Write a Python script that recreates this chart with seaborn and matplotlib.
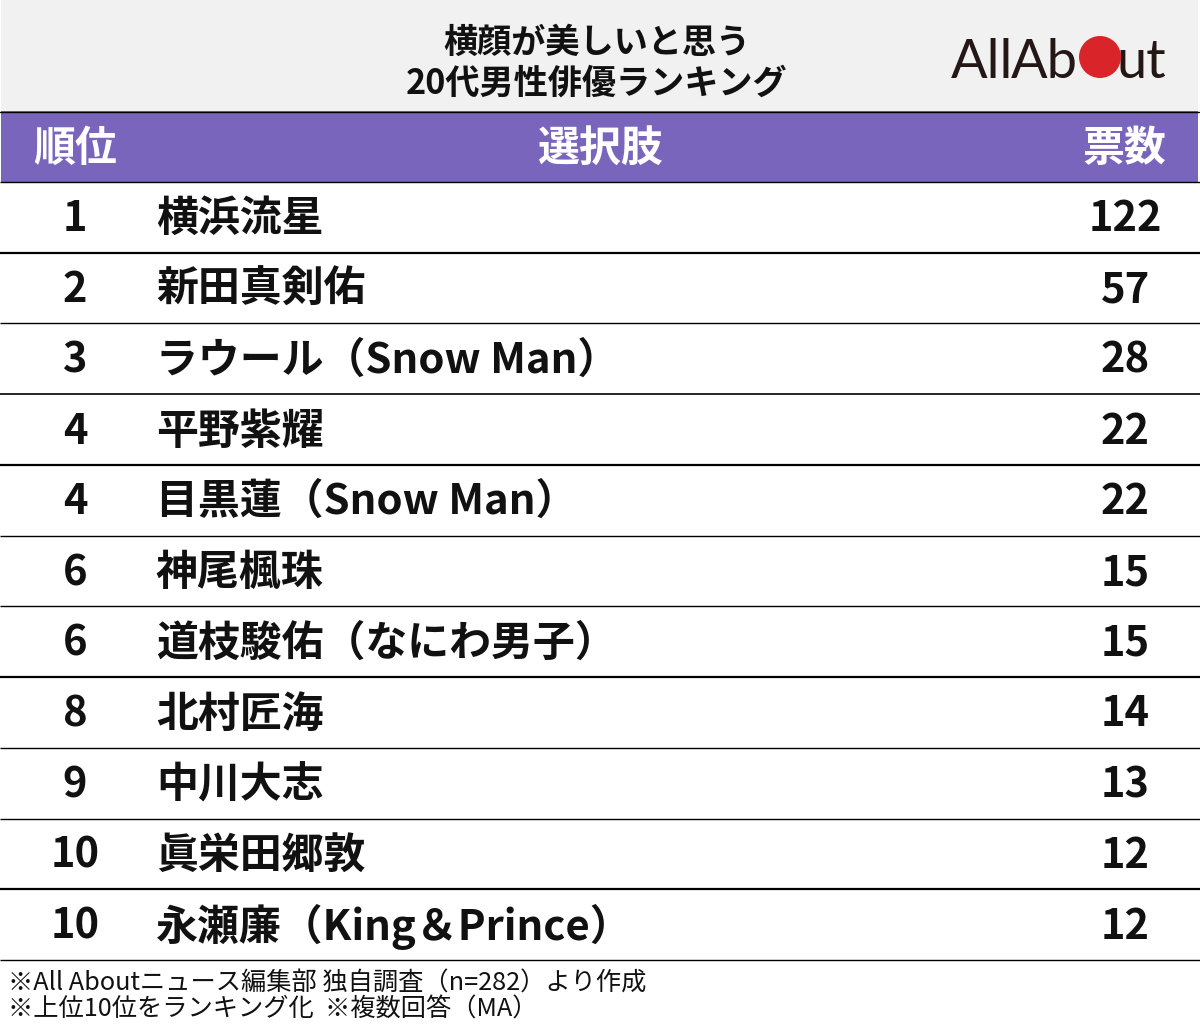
import matplotlib
matplotlib.use('Agg')
import matplotlib.pyplot as plt
from matplotlib.patches import Circle, Rectangle
import numpy as np
import seaborn as sns

# values
ranks = ['1', '2', '3', '4', '4', '6', '6', '8', '9', '10', '10']
names = ['横浜流星', '新田真剣佑', 'ラウール（Snow Man）', '平野紫耀', '目黒蓮（Snow Man）',
         '神尾楓珠', '道枝駿佑（なにわ男子）', '北村匠海', '中川大志', '眞栄田郷敦',
         '永瀬廉（King＆Prince）']
votes = [122, 57, 28, 22, 22, 15, 15, 14, 13, 12, 12]
headers = ['順位', '選択肢', '票数']
title_lines = ['横顔が美しいと思う', '20代男性俳優ランキング']
notes = ['※All Aboutニュース編集部 独自調査（n=282）より作成',
         '※上位10位をランキング化  ※複数回答（MA）']

sns.set_theme(style='white')
plt.rcParams['font.family'] = ['Noto Sans CJK JP', 'DejaVu Sans']

W, H = 1200, 1032
fig = plt.figure(figsize=(W / 100, H / 100), dpi=100, facecolor='white')

# page layer in pixel coordinates
bg = fig.add_axes([0, 0, 1, 1])
bg.set_xlim(0, W)
bg.set_ylim(H, 0)
bg.axis('off')
bg.add_patch(Rectangle((1, 0), 1197, 111, color='#f1f1f1', lw=0))
bg.add_patch(Rectangle((1, 111), 1197, 71, color='#7a65bd', lw=0))
bg.plot([0, 1199], [111.5, 111.5], color='black', lw=1)

bg.text(597, 42, title_lines[0], ha='center', va='center', fontsize=24.6, fontweight='bold', color='#111111')
bg.text(597, 83, title_lines[1], ha='center', va='center', fontsize=24.6, fontweight='bold', color='#111111')

for label, x in zip(headers, [75, 600, 1124]):
    bg.text(x, 149, label, ha='center', va='center', fontsize=30.2, fontweight='bold', color='white')

# logo
for part, x in [('All', 951), ('Ab', 1011), ('ut', 1117)]:
    bg.text(x, 78, part, ha='left', va='baseline', fontsize=39, family='Lato', fontweight='regular', color='#231815')
bg.add_patch(Circle((1100, 57), 21, color='#d9242a', lw=0, zorder=5))

for i, line in enumerate(notes):
    bg.text(8, 984 + i * 26, line, ha='left', va='center', fontsize=18.2, color='#111111')

# table body as a one-column heatmap, one row per rank
ax = fig.add_axes([0, (H - 960) / H, 1, (960 - 182) / H])
sns.heatmap(np.zeros((len(names), 1)), ax=ax, cmap=['white'], cbar=False,
            xticklabels=False, yticklabels=False)
ax.patch.set_alpha(0)
row_h = len(names) / (960 - 182)
for i, (r, n, v) in enumerate(zip(ranks, names, votes)):
    y = i + 0.5 + 2 * row_h
    ax.text(75 / W, y, r, ha='center', va='center', fontsize=30, fontweight='bold', color='#111111')
    ax.text(156 / W, y, n, ha='left', va='center', fontsize=30.2, fontweight='bold', color='#111111')
    ax.text(1125 / W, y, str(v), ha='center', va='center', fontsize=30, fontweight='bold', color='#111111')
ax.hlines(np.arange(len(names) + 1), 0, 1, color='black', clip_on=False,
          lw=[1, 1.6, 1, 1.2, 1.6, 1, 1, 1.6, 1, 1, 1.6, 1])

fig.savefig('out.png', dpi=100)
